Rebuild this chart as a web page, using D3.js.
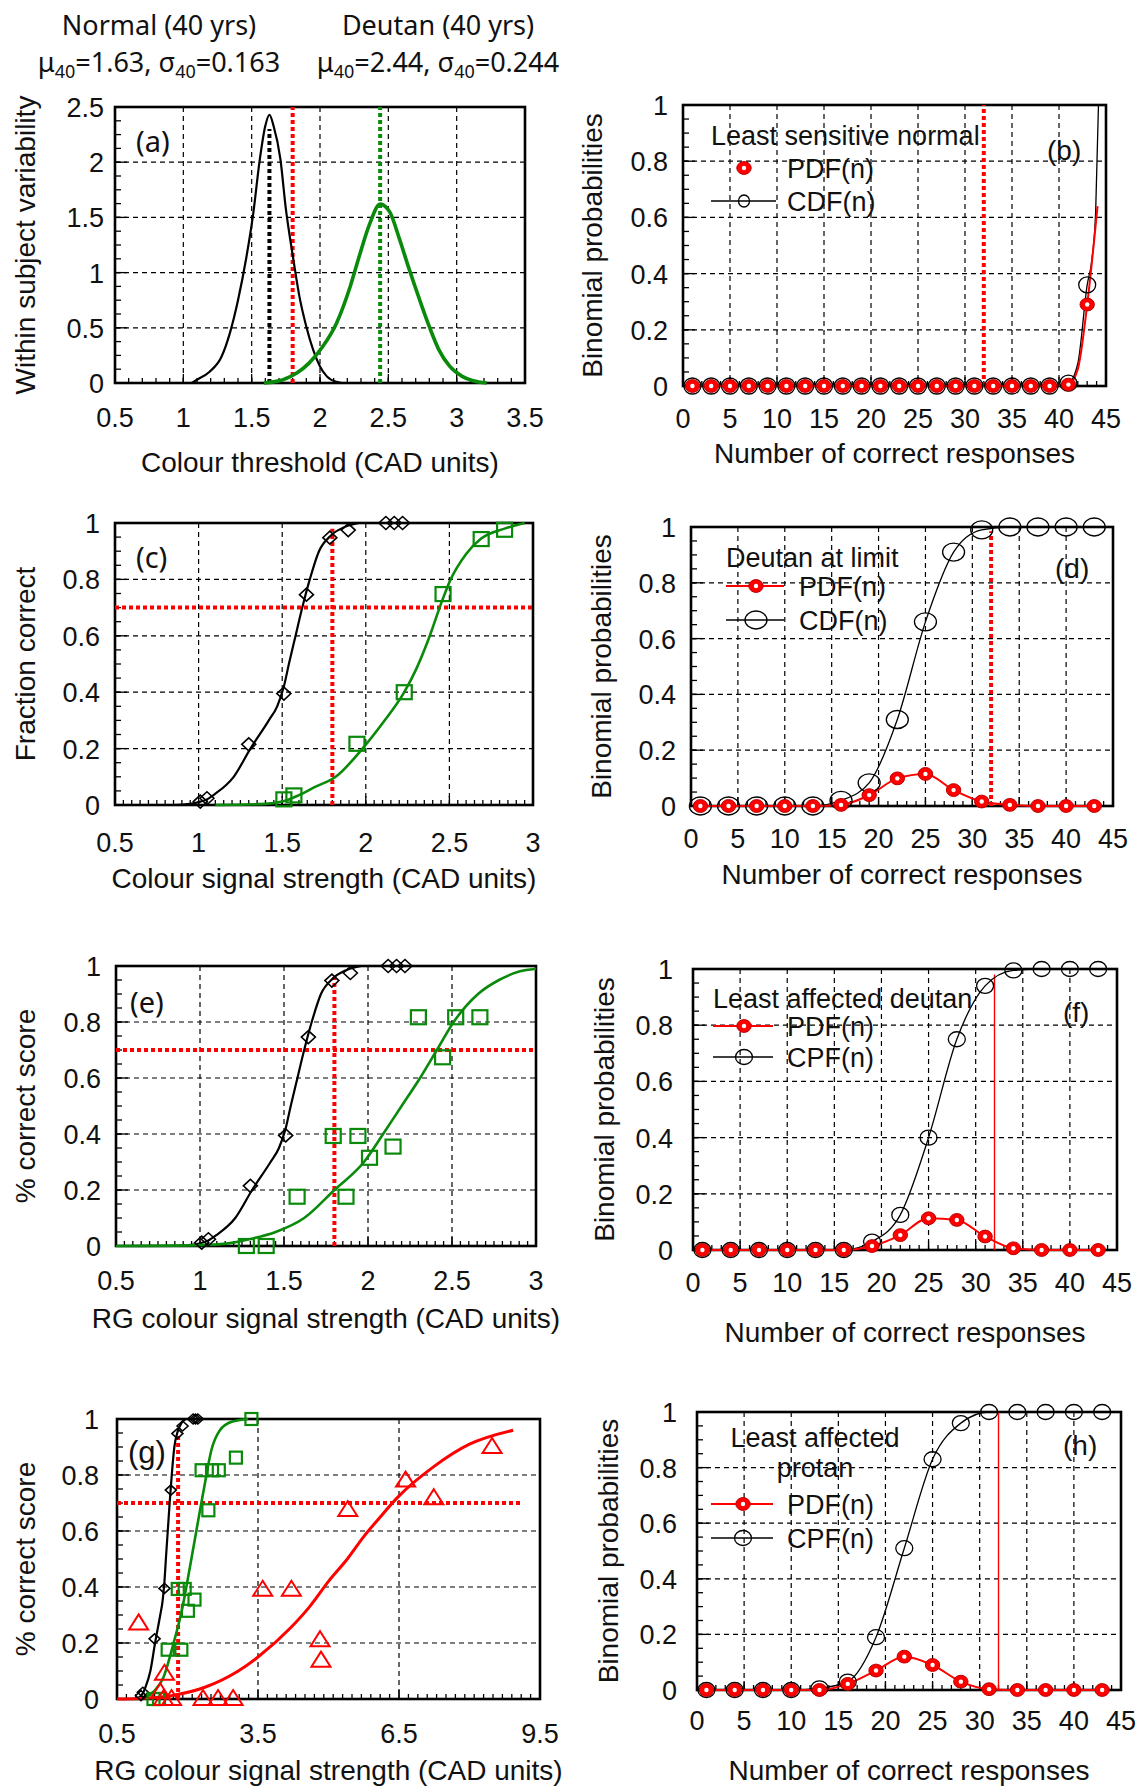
<!DOCTYPE html>
<html>
<head>
<meta charset="utf-8">
<script src="https://cdn.jsdelivr.net/npm/d3@7"></script>
<style>
    body { margin: 0; background: #fff; }
    svg { display: block; }
    text { font-family: "Liberation Sans", Arial, sans-serif; fill: #111; }
    .grid { stroke: #000; stroke-width: 1.2; stroke-dasharray: 5 4; }
    .cal { font-family: "Noto Sans", sans-serif; }
</style>
</head>
<body>
<svg id="fig" width="1137" height="1789"></svg>
<script>
// ---- header (a) ----
const headerTitles = ["Normal (40 yrs)", "Deutan (40 yrs)"];
const headerMu = [1.63, 2.44];
const headerSigma = [0.163, 0.244];

// ---- tick labels ----
const aXTicks = [0.5, 1, 1.5, 2, 2.5, 3, 3.5];
const aYTicks = [0, 0.5, 1, 1.5, 2, 2.5];
const ceXTicks = [0.5, 1, 1.5, 2, 2.5, 3];
const gXTicks = [0.5, 3.5, 6.5, 9.5];
const probTicks = [0, 0.2, 0.4, 0.6, 0.8, 1];
const countTicks = [0, 5, 10, 15, 20, 25, 30, 35, 40, 45];

// ---- reference values ----
const normalMean40 = 1.63;
const deutanMean40 = 2.44;
const limitThreshold = 1.8;
const criterion = 0.7;
const passLimit = 32;

// ---- (a) within subject variability ----
const aNormalCurve = [[1.06, 0], [1.10, 0.03], [1.19, 0.10], [1.28, 0.24], [1.34, 0.45], [1.40, 0.75], [1.46, 1.13],
    [1.51, 1.52], [1.56, 2.03], [1.60, 2.33], [1.63, 2.43], [1.66, 2.33], [1.71, 2.03], [1.75, 1.58], [1.80, 1.16],
    [1.85, 0.78], [1.90, 0.51], [1.95, 0.30], [2.00, 0.15], [2.05, 0.06], [2.12, 0.01], [2.16, 0]];
const aDeutanCurve = [[1.59, 0], [1.73, 0.03], [1.83, 0.09], [1.92, 0.18], [2.02, 0.33], [2.12, 0.54], [2.22, 0.87],
    [2.29, 1.16], [2.36, 1.43], [2.44, 1.62], [2.51, 1.55], [2.58, 1.31], [2.65, 1.04], [2.73, 0.75], [2.80, 0.51],
    [2.87, 0.30], [2.95, 0.15], [3.04, 0.06], [3.12, 0.02], [3.22, 0]];
const aNormalMeanTop = 2.3;

// ---- (c), (e), (g) psychometric data ----
const normalPts = [[1.01, 0.012], [1.05, 0.024], [1.30, 0.215], [1.51, 0.395], [1.645, 0.746], [1.785, 0.948],
    [1.895, 0.975], [2.12, 1], [2.17, 1], [2.22, 1]];
const normalFit = [[0.85, 0], [0.95, 0.004], [1.0, 0.01], [1.05, 0.02], [1.1, 0.04], [1.21, 0.1], [1.31, 0.2],
    [1.42, 0.3], [1.47, 0.35], [1.51, 0.42], [1.54, 0.5], [1.58, 0.6], [1.62, 0.7], [1.665, 0.8], [1.72, 0.9],
    [1.79, 0.955], [1.87, 0.985], [1.96, 1.0]];
const cDeutanPts = [[1.51, 0.02], [1.57, 0.034], [1.947, 0.217], [2.23, 0.40], [2.462, 0.748], [2.69, 0.943], [2.83, 0.976]];
const cDeutanFit = [[1.1, 0], [1.4, 0.004], [1.5, 0.012], [1.6, 0.035], [1.7, 0.065], [1.82, 0.1], [1.98, 0.2],
    [2.1, 0.29], [2.23, 0.4], [2.3, 0.48], [2.37, 0.58], [2.46, 0.73], [2.5, 0.79], [2.6, 0.89], [2.69, 0.945],
    [2.83, 0.98], [2.95, 1.0]];
const deutanPts = [[1.276, 0], [1.394, 0], [1.578, 0.176], [1.793, 0.393], [1.869, 0.176], [1.94, 0.393],
    [2.009, 0.315], [2.149, 0.355], [2.30, 0.817], [2.444, 0.674], [2.522, 0.817], [2.666, 0.817], [3.03, 0.862], [3.36, 1.0]];
const eDeutanFit = [[0.5, 0], [1.0, 0.003], [1.2, 0.012], [1.3, 0.025], [1.45, 0.05], [1.62, 0.1], [1.8, 0.2],
    [1.976, 0.3], [2.09, 0.4], [2.2, 0.5], [2.31, 0.6], [2.41, 0.7], [2.51, 0.8], [2.655, 0.9], [2.78, 0.95],
    [2.9, 0.98], [3.0, 0.99]];
const gDeutanFit = [[0.9, 0], [1.10, 0.006], [1.3, 0.03], [1.49, 0.078], [1.70, 0.197], [1.88, 0.317], [2.05, 0.47],
    [2.23, 0.64], [2.37, 0.77], [2.51, 0.89], [2.69, 0.96], [2.94, 0.99], [3.29, 1.0]];
const protanPts = [[0.96, 0.27], [1.42, 0.024], [1.51, 0.09], [1.49, 0], [1.66, 0], [2.33, 0], [2.65, 0], [2.97, 0],
    [3.6, 0.39], [4.21, 0.39], [4.82, 0.21], [4.84, 0.137], [5.41, 0.675], [6.64, 0.78], [7.24, 0.717], [8.48, 0.90]];
const protanFit = [[0.5, 0], [1.0, 0.002], [1.66, 0.012], [2.37, 0.042], [3.08, 0.10], [3.5, 0.15], [4.21, 0.257],
    [4.6, 0.33], [5.0, 0.42], [5.4, 0.5], [5.75, 0.58], [6.1, 0.65], [6.47, 0.72], [7.24, 0.83], [8.0, 0.91], [8.93, 0.96]];

// ---- binomial panels ----
const bN = [1, 3, 5, 7, 9, 11, 13, 15, 17, 19, 21, 23, 25, 27, 29, 31, 33, 35, 37, 39, 41, 43];
const bPdf = [0, 0, 0, 0, 0, 0, 0, 0, 0, 0, 0, 0, 0, 0, 0, 0, 0, 0, 0, 0, 0.005, 0.29];
const bCdf = [0, 0, 0, 0, 0, 0, 0, 0, 0, 0, 0, 0, 0, 0, 0, 0, 0, 0, 0, 0, 0.01, 0.36];
const bPdfTail = [[42, 0.06], [44.1, 0.64]];
const bCdfTail = [[42, 0.08], [43.5, 0.45], [43.9, 0.62], [44.2, 1.0]];

const dfhN = [1, 4, 7, 10, 13, 16, 19, 22, 25, 28, 31, 34, 37, 40, 43];
const dPdf = [0, 0, 0, 0, 0, 0.004, 0.039, 0.099, 0.115, 0.057, 0.016, 0.004, 0, 0, 0];
const dCdf = [0, 0, 0, 0, 0, 0.02, 0.083, 0.31, 0.66, 0.91, 0.99, 1, 1, 1, 1];
const fPdf = [0, 0, 0, 0, 0, 0, 0.014, 0.053, 0.113, 0.107, 0.048, 0.006, 0, 0, 0];
const fCdf = [0, 0, 0, 0, 0, 0, 0.03, 0.125, 0.40, 0.75, 0.94, 0.995, 1, 1, 1];
const hPdf = [0, 0, 0, 0, 0, 0.022, 0.07, 0.12, 0.09, 0.03, 0.003, 0, 0, 0, 0];
const hCdf = [0, 0, 0, 0, 0.006, 0.03, 0.19, 0.51, 0.83, 0.96, 1, 1, 1, 1, 1];


const RED = "#f00", GREEN = "#0a8a0a";
const svg = d3.select("#fig");

function txt(g, x, y, s, size, anchor, cls) {
    return g.append("text").attr("x", x).attr("y", y).attr("font-size", size)
      .attr("text-anchor", anchor || "start").attr("class", cls || null).text(s);
}

function makePanel(p) {
    const g = svg.append("g");
    const x = d3.scaleLinear().domain(p.xDomain).range([p.L, p.R]);
    const y = d3.scaleLinear().domain(p.yDomain).range([p.B, p.T]);

    g.append("g").selectAll("line").data(p.xGrid).join("line").attr("class", "grid")
      .attr("x1", d => x(d)).attr("x2", d => x(d)).attr("y1", p.T).attr("y2", p.B);
    g.append("g").selectAll("line").data(p.yTicks.slice(1, -1)).join("line").attr("class", "grid")
      .attr("x1", p.L).attr("x2", p.R).attr("y1", d => y(d)).attr("y2", d => y(d));

    const xMinor = d3.range(p.xDomain[0], p.xDomain[1] + 1e-9, p.xMinor);
    const yMinor = d3.range(p.yDomain[0], p.yDomain[1] + 1e-9, p.yMinor);
    const ticks = g.append("g").attr("stroke", "#000").attr("stroke-width", 1.3);
    ticks.selectAll(".xm").data(xMinor).join("line")
      .attr("x1", d => x(d)).attr("x2", d => x(d)).attr("y1", p.B).attr("y2", p.B - 5);
    ticks.selectAll(".ym").data(yMinor).join("line")
      .attr("x1", p.L).attr("x2", p.L + 6).attr("y1", d => y(d)).attr("y2", d => y(d));
    ticks.selectAll(".xM").data(p.xTicks).join("line")
      .attr("x1", d => x(d)).attr("x2", d => x(d)).attr("y1", p.B).attr("y2", p.B - 9);
    ticks.selectAll(".yM").data(p.yTicks).join("line")
      .attr("x1", p.L).attr("x2", p.L + 12).attr("y1", d => y(d)).attr("y2", d => y(d));

    g.append("rect").attr("x", p.L).attr("y", p.T).attr("width", p.R - p.L).attr("height", p.B - p.T)
      .attr("fill", "none").attr("stroke", "#000").attr("stroke-width", 2.6);

    g.append("g").selectAll("text").data(p.xTicks).join("text")
      .attr("x", d => x(d)).attr("y", p.tickY).attr("font-size", 27).attr("text-anchor", "middle")
      .text(d => String(d));
    g.append("g").selectAll("text").data(p.yTicks).join("text")
      .attr("x", p.L - p.yGap).attr("y", d => y(d) + 10).attr("font-size", 27).attr("text-anchor", "end")
      .text(d => String(d));

    txt(g, (p.L + p.R) / 2, p.titleY, p.title, 28, "middle");
    g.append("text").attr("font-size", 28).attr("text-anchor", "middle").attr("dy", "0.35em")
      .attr("transform", `translate(${p.ylabelX},${(p.T + p.B) / 2}) rotate(-90)`).text(p.ylabel);

    const data = g.append("g");
    return {g: data, x, y, p};
}

function curve(P, pts, color, width) {
    const line = d3.line().x(d => P.x(d[0])).y(d => P.y(d[1])).curve(d3.curveMonotoneX);
    P.g.append("path").attr("d", line(pts)).attr("fill", "none").attr("stroke", color)
      .attr("stroke-width", width).attr("stroke-linejoin", "round");
}

function dotted(P, x1, y1, x2, y2, color, width) {
    P.g.append("line").attr("x1", P.x(x1)).attr("x2", P.x(x2)).attr("y1", P.y(y1)).attr("y2", P.y(y2))
      .attr("stroke", color).attr("stroke-width", width || 4).attr("stroke-dasharray", "4 3");
}

function inDomain(P, pts) {
    const [x0, x1] = P.x.domain();
    return pts.filter(d => d[0] >= x0 && d[0] <= x1);
}

function diamonds(P, pts, w, h) {
    P.g.append("g").selectAll("path").data(inDomain(P, pts)).join("path")
      .attr("transform", d => `translate(${P.x(d[0])},${P.y(d[1])})`)
      .attr("d", `M0,${-h}L${w},0L0,${h}L${-w},0Z`)
      .attr("fill", "none").attr("stroke", "#000").attr("stroke-width", 1.6);
}

function squares(P, pts, w, h) {
    P.g.append("g").selectAll("rect").data(inDomain(P, pts)).join("rect")
      .attr("x", d => P.x(d[0]) - w / 2).attr("y", d => P.y(d[1]) - h / 2).attr("width", w).attr("height", h)
      .attr("fill", "none").attr("stroke", GREEN).attr("stroke-width", 2.2);
}

function triangles(P, pts, w, h) {
    P.g.append("g").selectAll("path").data(inDomain(P, pts)).join("path")
      .attr("transform", d => `translate(${P.x(d[0])},${P.y(d[1])})`)
      .attr("d", `M0,${-h * 0.6}L${w / 2},${h * 0.4}L${-w / 2},${h * 0.4}Z`)
      .attr("fill", "none").attr("stroke", RED).attr("stroke-width", 2);
}

function openCircle(g, cx, cy, rx, ry) {
    g.append("ellipse").attr("cx", cx).attr("cy", cy).attr("rx", rx).attr("ry", ry)
      .attr("fill", "none").attr("stroke", "#000").attr("stroke-width", 1.3);
}

function pdfMark(g, cx, cy) {
    g.append("ellipse").attr("cx", cx).attr("cy", cy).attr("rx", 7.2).attr("ry", 6.4)
      .attr("fill", RED).attr("stroke", "#b00").attr("stroke-width", 1);
    g.append("circle").attr("cx", cx).attr("cy", cy).attr("r", 2.2).attr("fill", "#fff");
}

function binomial(P, ns, pdf, cdf, pdfTail, cdfTail, rx, ry) {
    const pdfPts = ns.map((n, i) => [n, pdf[i]]);
    const cdfPts = ns.map((n, i) => [n, cdf[i]]);
    const byX = (a, b) => a[0] - b[0];
    curve(P, cdfPts.concat(cdfTail).sort(byX), "#000", 1.3);
    curve(P, pdfPts.concat(pdfTail).sort(byX), RED, 2);
    cdfPts.forEach(d => openCircle(P.g, P.x(d[0]), P.y(d[1]), rx, ry));
    pdfPts.forEach(d => pdfMark(P.g, P.x(d[0]), P.y(d[1])));
}

function legendRows(P, x0, x1, xm, xt, yPdf, yCdf, pdfLine, cdfName, rx, ry) {
    const g = P.g;
    if (pdfLine) g.append("line").attr("x1", x0).attr("x2", x1).attr("y1", yPdf).attr("y2", yPdf)
      .attr("stroke", RED).attr("stroke-width", 2);
    pdfMark(g, xm, yPdf);
    txt(g, xt, yPdf + 10, "PDF(n)", 27);
    g.append("line").attr("x1", x0).attr("x2", x1).attr("y1", yCdf).attr("y2", yCdf)
      .attr("stroke", "#000").attr("stroke-width", 1.3);
    openCircle(g, xm, yCdf, rx, ry);
    txt(g, xt, yCdf + 10, cdfName, 27);
}

// ---- header ----
[159, 438].forEach(function(cx, i) {
    txt(svg, cx, 35, headerTitles[i], 27, "middle", "cal");
    const t = txt(svg, cx, 72, null, 27, "middle", "cal");
    t.append("tspan").text("\u03bc");
    t.append("tspan").attr("font-size", 18).attr("dy", 6).text("40");
    t.append("tspan").attr("dy", -6).text(`=${headerMu[i]}, \u03c3`);
    t.append("tspan").attr("font-size", 18).attr("dy", 6).text("40");
    t.append("tspan").attr("dy", -6).text(`=${headerSigma[i]}`);
});

// ---- (a) ----
const A = makePanel({L: 115, T: 107, R: 525, B: 383, xDomain: [0.5, 3.5], yDomain: [0, 2.5],
    xTicks: aXTicks, yTicks: aYTicks, xGrid: aXTicks.slice(1, -1), xMinor: 0.1, yMinor: 0.125,
    tickY: 427, titleY: 472, yGap: 11, ylabelX: 25,
    title: "Colour threshold (CAD units)", ylabel: "Within subject variability"});
dotted(A, normalMean40, 0, normalMean40, aNormalMeanTop, "#000", 4);
dotted(A, limitThreshold, 0, limitThreshold, 2.5, RED, 4);
dotted(A, deutanMean40, 0, deutanMean40, 2.5, GREEN, 4);
curve(A, aNormalCurve, "#000", 2.2);
curve(A, aDeutanCurve, GREEN, 3.6);
txt(A.g, 136, 152, "(a)", 29, "start", "cal");

// ---- (b) ----
const B = makePanel({L: 683, T: 105, R: 1106, B: 386, xDomain: [0, 45], yDomain: [0, 1],
    xTicks: countTicks, yTicks: probTicks, xGrid: countTicks.slice(1, -1), xMinor: 1, yMinor: 0.05,
    tickY: 428, titleY: 463, yGap: 15, ylabelX: 592,
    title: "Number of correct responses", ylabel: "Binomial probabilities"});
dotted(B, passLimit, 0, passLimit, 1, RED, 4);
binomial(B, bN, bPdf, bCdf, bPdfTail, bCdfTail, 8.5, 8);
txt(B.g, 711, 145, "Least sensitive normal", 27);
legendRows(B, 711, 776, 744, 787, 168, 201, false, "CDF(n)", 5.5, 6);
txt(B.g, 1047, 160, "(b)", 28);

// ---- (c) ----
const C = makePanel({L: 115, T: 523, R: 533, B: 805, xDomain: [0.5, 3], yDomain: [0, 1],
    xTicks: ceXTicks, yTicks: probTicks, xGrid: ceXTicks.slice(1, -1), xMinor: 0.05, yMinor: 0.05,
    tickY: 852, titleY: 888, yGap: 15, ylabelX: 25,
    title: "Colour signal strength (CAD units)", ylabel: "Fraction correct"});
dotted(C, 0.5, criterion, 3, criterion, RED, 4);
dotted(C, limitThreshold, 0, limitThreshold, 0.98, RED, 4);
curve(C, normalFit, "#000", 2.2);
curve(C, cDeutanFit, GREEN, 2.6);
diamonds(C, normalPts, 7, 6.5);
squares(C, cDeutanPts, 15, 14);
txt(C.g, 136, 568, "(c)", 29, "start", "cal");

// ---- (d) ----
const D = makePanel({L: 691, T: 527, R: 1113, B: 806, xDomain: [0, 45], yDomain: [0, 1],
    xTicks: countTicks, yTicks: probTicks, xGrid: countTicks.slice(1, -1), xMinor: 1, yMinor: 0.05,
    tickY: 848, titleY: 884, yGap: 15, ylabelX: 601,
    title: "Number of correct responses", ylabel: "Binomial probabilities"});
dotted(D, passLimit, 0, passLimit, 0.985, RED, 4);
binomial(D, dfhN, dPdf, dCdf, [], [], 11, 9);
txt(D.g, 726, 567, "Deutan at limit", 27);
legendRows(D, 726, 784, 756, 799, 586, 620, true, "CDF(n)", 11, 9);
txt(D.g, 1055, 578, "(d)", 28);

// ---- (e) ----
const E = makePanel({L: 116, T: 966, R: 536, B: 1246, xDomain: [0.5, 3], yDomain: [0, 1],
    xTicks: ceXTicks, yTicks: probTicks, xGrid: ceXTicks.slice(1, -1), xMinor: 0.05, yMinor: 0.05,
    tickY: 1290, titleY: 1328, yGap: 15, ylabelX: 25,
    title: "RG colour signal strength (CAD units)", ylabel: "% correct score"});
dotted(E, 0.5, criterion, 3, criterion, RED, 4);
dotted(E, limitThreshold, 0, limitThreshold, 0.96, RED, 4);
curve(E, normalFit, "#000", 2.2);
curve(E, eDeutanFit, GREEN, 2.6);
diamonds(E, normalPts, 7, 6.5);
squares(E, deutanPts, 15, 14);
txt(E.g, 130, 1013, "(e)", 29, "start", "cal");

// ---- (f) ----
const F = makePanel({L: 693, T: 969, R: 1117, B: 1250, xDomain: [0, 45], yDomain: [0, 1],
    xTicks: countTicks, yTicks: probTicks, xGrid: countTicks.slice(1, -1), xMinor: 1, yMinor: 0.05,
    tickY: 1292, titleY: 1342, yGap: 20, ylabelX: 604,
    title: "Number of correct responses", ylabel: "Binomial probabilities"});
F.g.append("line").attr("x1", F.x(passLimit)).attr("x2", F.x(passLimit)).attr("y1", F.y(0)).attr("y2", F.y(0.98))
  .attr("stroke", RED).attr("stroke-width", 1.4);
binomial(F, dfhN, fPdf, fCdf, [], [], 8.5, 7.5);
txt(F.g, 713, 1008, "Least affected deutan", 27);
legendRows(F, 713, 773, 744, 787, 1026, 1057, true, "CPF(n)", 8.5, 7.5);
txt(F.g, 1063, 1022, "(f)", 28);

// ---- (g) ----
const G = makePanel({L: 117, T: 1419, R: 540, B: 1699, xDomain: [0.5, 9.5], yDomain: [0, 1],
    xTicks: gXTicks, yTicks: probTicks, xGrid: gXTicks.slice(1, -1), xMinor: 0.2, yMinor: 0.05,
    tickY: 1743, titleY: 1780, yGap: 18, ylabelX: 25,
    title: "RG colour signal strength (CAD units)", ylabel: "% correct score"});
dotted(G, 0.5, criterion, 9.1, criterion, RED, 4);
dotted(G, limitThreshold, 0, limitThreshold, 0.95, RED, 4);
curve(G, normalFit, "#000", 2.2);
curve(G, gDeutanFit, GREEN, 2.6);
curve(G, protanFit, RED, 3);
diamonds(G, normalPts, 5.5, 5);
squares(G, deutanPts, 12, 12);
triangles(G, protanPts, 19, 15);
txt(G.g, 128, 1463, "(g)", 31).attr("font-family", '"Liberation Serif", serif');

// ---- (h) ----
const H = makePanel({L: 697, T: 1412, R: 1121, B: 1690, xDomain: [0, 45], yDomain: [0, 1],
    xTicks: countTicks, yTicks: probTicks, xGrid: countTicks.slice(1, -1), xMinor: 1, yMinor: 0.05,
    tickY: 1730, titleY: 1780, yGap: 20, ylabelX: 608,
    title: "Number of correct responses", ylabel: "Binomial probabilities"});
H.g.append("line").attr("x1", H.x(passLimit)).attr("x2", H.x(passLimit)).attr("y1", H.y(0)).attr("y2", H.y(1))
  .attr("stroke", RED).attr("stroke-width", 1.4);
binomial(H, dfhN, hPdf, hCdf, [], [], 8.5, 7.5);
txt(H.g, 815, 1447, "Least affected", 27, "middle");
txt(H.g, 815, 1477, "protan", 27, "middle");
legendRows(H, 711, 773, 743, 787, 1504, 1538, true, "CPF(n)", 8.5, 7.5);
txt(H.g, 1063, 1455, "(h)", 28);
</script>
</body>
</html>
